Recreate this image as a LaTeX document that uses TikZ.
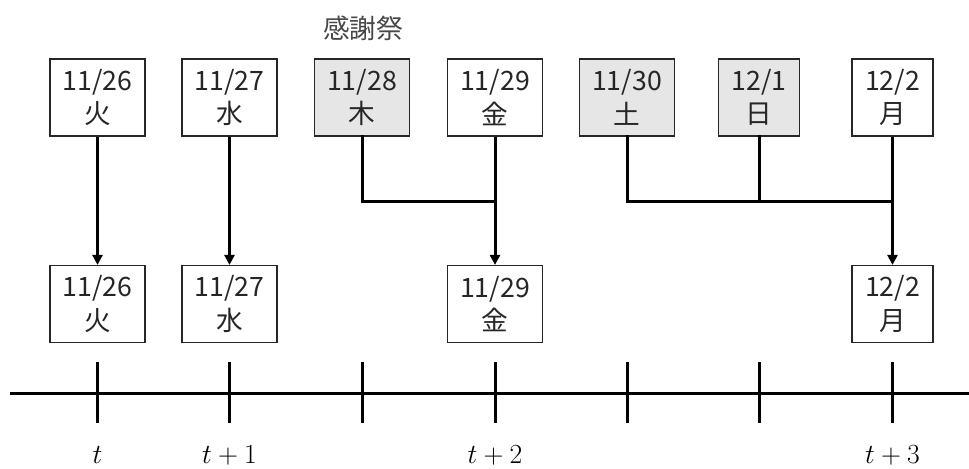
\documentclass[tikz,border=0pt]{standalone}
\usepackage{fontspec}
\setmainfont{Noto Sans CJK JP}
\usetikzlibrary{arrows.meta}
\definecolor{holiday}{HTML}{E6E6E6}
\definecolor{ink}{HTML}{262626}
\tikzset{
  daybox/.style={draw=ink, line width=0.9pt, fill=white, minimum width=71.25pt, minimum height=57.75pt, inner sep=0pt, align=center, font=\fontsize{20}{25}\selectfont, text=ink},
  narrow/.style={minimum width=60.75pt},
  offday/.style={fill=holiday},
  link/.style={line width=2.25pt, line cap=rect},
  flow/.style={line width=2.25pt, -{Triangle[length=7.5pt,width=7.5pt]}},
  axis/.style={line width=2.25pt},
  lbl/.style={font=\fontsize{20}{24}\selectfont, anchor=base, inner sep=0pt}
}
\begin{document}
\begin{tikzpicture}[x=0.75pt,y=-0.75pt]
\useasboundingbox (0,0) rectangle (969,468);
% title
\node[font=\fontsize{20}{24}\selectfont, text=ink!85] (title) at (363,28) {感謝祭};
% top row
\node[daybox] (t1) at (97.5,97.5) {11/26\\火};
\node[daybox] (t2) at (229.5,97.5) {11/27\\水};
\node[daybox,offday] (t3) at (362,97.5) {11/28\\木};
\node[daybox] (t4) at (495,97.5) {11/29\\金};
\node[daybox,offday] (t5) at (627,97.5) {11/30\\土};
\node[daybox,offday,narrow] (t6) at (759,97.5) {12/1\\日};
\node[daybox,narrow] (t7) at (892.5,97.5) {12/2\\月};
% bottom row
\node[daybox] (b1) at (97.5,304) {11/26\\火};
\node[daybox] (b2) at (229.5,304) {11/27\\水};
\node[daybox] (b4) at (495,304) {11/29\\金};
\node[daybox,narrow] (b7) at (892.5,304) {12/2\\月};
% junctions
\coordinate (j4) at (495,201);
\coordinate (j7) at (892.5,201);
% connectors
\draw[flow] (t1) -- (b1);
\draw[flow] (t2) -- (b2);
\draw[flow] (t4) -- (b4);
\draw[flow] (t7) -- (b7);
\draw[link] (t3.south) |- (j4);
\draw[link] (t5.south) |- (j7);
\draw[link] (t6.south) -- (t6.south |- j7);
% axis
\coordinate (a0) at (10,393);
\coordinate (a1) at (969,393);
\draw[axis] (a0) -- (a1);
\foreach \x/\n in {97.5/k1,229.5/k2,362/k3,495/k4,627/k5,759/k6,892.5/k7}{
  \coordinate (\n top) at (\x,362);
  \coordinate (\n bot) at (\x,423);
  \draw[axis] (\n top) -- (\n bot);
}
% labels
\node[lbl] (l1) at (97.5,463) {$t$};
\node[lbl] (l2) at (229.5,463) {$t+1$};
\node[lbl] (l4) at (495,463) {$t+2$};
\node[lbl] (l7) at (892.5,463) {$t+3$};
\end{tikzpicture}
\end{document}
